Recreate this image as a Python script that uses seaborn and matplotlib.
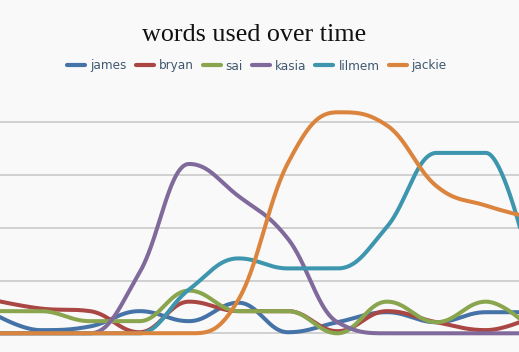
import numpy as np
import pandas as pd
import matplotlib
matplotlib.use("Agg")
import matplotlib.pyplot as plt
from matplotlib.lines import Line2D
import seaborn as sns

# ---- data ----
periods = list(range(12))
names = ["james", "bryan", "sai", "kasia", "lilmem", "jackie"]
james  = [4.0, 0.6, 1.3, 4.2, 2.3, 5.8, 0.2, 2.1, 4.0, 2.1, 4.0, 4.0]
bryan  = [6.4, 4.7, 4.2, 0.2, 6.0, 4.2, 4.2, 0.4, 4.2, 2.1, 0.6, 3.4]
sai    = [4.2, 4.2, 2.3, 2.3, 8.1, 4.2, 4.2, 0.0, 6.0, 2.1, 6.0, 0.0]
kasia  = [0.0, 0.0, 0.0, 11.5, 32.1, 26.0, 17.9, 2.1, 0.0, 0.0, 0.0, 0.0]
lilmem = [0.0, 0.0, 0.0, 0.0, 8.3, 14.2, 12.3, 12.3, 20.2, 34.2, 34.2, 8.3]
jackie = [0.0, 0.0, 0.0, 0.0, 0.0, 6.4, 32.3, 41.9, 39.4, 27.9, 24.2, 21.7]
series = [james, bryan, sai, kasia, lilmem, jackie]
colors = ["#4572A7", "#AA4643", "#89A54E", "#80699B", "#3D96AE", "#DB843D"]
title = "words used over time"


def spline(x, y, n=50):
    """Bezier spline rendering of the knots (smoothing 1.5, no false extremes)."""
    x = np.asarray(x, float)
    y = np.asarray(y, float)
    N = len(y)
    lcx, lcy = x.copy(), y.copy()
    rcx, rcy = x.copy(), y.copy()
    sm, den = 1.5, 2.5
    for i in range(1, N - 1):
        lx, ly0 = x[i - 1], y[i - 1]
        nx, ny0 = x[i + 1], y[i + 1]
        px, py = x[i], y[i]
        lcx_ = (sm * px + lx) / den
        lcy_ = (sm * py + ly0) / den
        rcx_ = (sm * px + nx) / den
        rcy_ = (sm * py + ny0) / den
        corr = ((rcy_ - lcy_) * (rcx_ - px)) / (rcx_ - lcx_) + py - rcy_
        lcy_ += corr
        rcy_ += corr
        if lcy_ > ly0 and lcy_ > py:
            lcy_ = max(ly0, py); rcy_ = 2 * py - lcy_
        elif lcy_ < ly0 and lcy_ < py:
            lcy_ = min(ly0, py); rcy_ = 2 * py - lcy_
        if rcy_ > ny0 and rcy_ > py:
            rcy_ = max(ny0, py); lcy_ = 2 * py - rcy_
        elif rcy_ < ny0 and rcy_ < py:
            rcy_ = min(ny0, py); lcy_ = 2 * py - rcy_
        lcx[i], lcy[i], rcx[i], rcy[i] = lcx_, lcy_, rcx_, rcy_
    xs, ys = [], []
    for i in range(N - 1):
        t = np.linspace(0, 1, n, endpoint=(i == N - 2))
        a, b, c, d = (1 - t) ** 3, 3 * (1 - t) ** 2 * t, 3 * (1 - t) * t ** 2, t ** 3
        xs.append(a * x[i] + b * rcx[i] + c * lcx[i + 1] + d * x[i + 1])
        ys.append(a * y[i] + b * rcy[i] + c * lcy[i + 1] + d * y[i + 1])
    return np.concatenate(xs), np.concatenate(ys)


frames = []
for name, vals in zip(names, series):
    xs, ys = spline(periods, vals)
    frames.append(pd.DataFrame({"period": xs, "words": ys, "name": name}))
df = pd.concat(frames, ignore_index=True)

sns.set_style("white")
bg = "#f9f9f9"
fig = plt.figure(figsize=(5.19, 3.52), dpi=100, facecolor=bg)
ax = fig.add_axes([0, 0, 1, 1], facecolor=bg)

sns.lineplot(data=df, x="period", y="words", hue="name", hue_order=names,
             palette=dict(zip(names, colors)), estimator=None, sort=False,
             linewidth=2.9, legend=False, ax=ax)

px_per_unit = 5.275
zero_px = 333.3
ax.set_ylim((zero_px - 352) / px_per_unit, zero_px / px_per_unit)
ax.set_xlim(9 / 49.5, 528 / 49.5)
ax.set_yticks([0, 10, 20, 30, 40])
ax.set_xticks([])
ax.yaxis.grid(True, color="#c6c6c6", linewidth=1.1)
ax.set_axisbelow(True)
ax.tick_params(left=False, bottom=False, labelleft=False, labelbottom=False)
ax.set_xlabel("")
ax.set_ylabel("")
for sp in ax.spines.values():
    sp.set_visible(False)

fig.text(254 / 519, 1 - 41 / 352, title, ha="center", va="baseline",
         family=["Liberation Serif", "DejaVu Serif"], size=18.8, color="#111111")

handles = [Line2D([], [], color=c, linewidth=3.0) for c in colors]
leg = ax.legend(handles, names, loc="center", bbox_to_anchor=(257 / 519, 1 - 66 / 352),
                bbox_transform=fig.transFigure, ncol=6, frameon=False,
                prop={"family": "DejaVu Sans", "size": 8.64},
                handlelength=1.5, handletextpad=0.42, columnspacing=0.75,
                borderpad=0, borderaxespad=0)
for t in leg.get_texts():
    t.set_color("#3E576F")

fig.savefig("out.png", dpi=100, facecolor=bg)
